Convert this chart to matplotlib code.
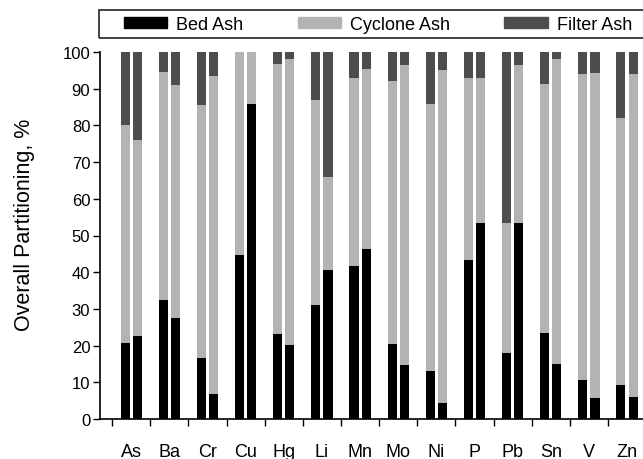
import matplotlib
matplotlib.use("Agg")
import matplotlib.pyplot as plt
import numpy as np
from matplotlib.patches import Patch, Rectangle

plt.rcParams['font.family'] = ['Liberation Sans', 'DejaVu Sans']

elements = ["As", "Ba", "Cr", "Cu", "Hg", "Li", "Mn", "Mo", "Ni", "P", "Pb", "Sn", "V", "Zn"]

# two bars per element: bed ash share, and top of cyclone ash (bed + cyclone)
bed_1 = [20.7, 32.3, 16.7, 44.8, 23.2, 31.0, 41.8, 20.3, 13.2, 43.2, 18.0, 23.3, 10.6, 9.3]
bed_2 = [22.5, 27.5, 6.8, 85.7, 20.2, 40.7, 46.4, 14.7, 4.4, 53.4, 53.3, 15.0, 5.8, 6.0]
cyc_top_1 = [80.0, 94.5, 85.5, 100.0, 96.7, 86.8, 93.0, 92.0, 85.8, 92.8, 53.5, 91.3, 94.0, 82.0]
cyc_top_2 = [76.0, 91.0, 93.5, 100.0, 98.0, 66.0, 95.5, 96.5, 95.0, 92.8, 96.5, 98.0, 94.4, 94.0]

bed_c = "#000000"
cyc_c = "#b3b3b3"
fil_c = "#4d4d4d"

x = np.arange(len(elements))
w = 0.24
off = 0.16

fig = plt.figure(figsize=(6.43, 4.6), dpi=100)
ax = fig.add_axes([100 / 643, 1 - 420 / 460, 1 - 100 / 643, (420 - 53) / 460])

for pos, bed, top in ((x - off, bed_1, cyc_top_1), (x + off, bed_2, cyc_top_2)):
    bed = np.array(bed)
    top = np.array(top)
    ax.bar(pos, bed, w, color=bed_c, linewidth=0)
    ax.bar(pos, top - bed, w, bottom=bed, color=cyc_c, linewidth=0)
    ax.bar(pos, 100 - top, w, bottom=top, color=fil_c, linewidth=0)

ax.set_xlim(-0.82, 13.42)
ax.set_ylim(0, 100)
ax.set_yticks(np.arange(0, 101, 10))
ax.set_xticks(x - 0.5)
ax.set_xticklabels([])
for xi, name in zip(x, elements):
    ax.text(xi, -8.9, name, ha="center", va="center", fontsize=13)
ax.spines['top'].set_visible(False)
ax.spines['right'].set_visible(False)
ax.spines['left'].set_linewidth(1.2)
ax.spines['bottom'].set_linewidth(1.2)
ax.tick_params(axis='both', direction='out', length=5, width=1.0, labelsize=12, pad=2)
ax.set_ylabel("Overall Partitioning, %", fontsize=15.5)
ax.yaxis.set_label_coords(-0.12, (420 - 224.5) / 367)

# legend box spanning the top
fig.patches.append(Rectangle((99 / 643, 1 - 39 / 460), 1 - 99 / 643 + 0.01, 28 / 460,
                             transform=fig.transFigure, fill=False,
                             edgecolor="#222222", linewidth=1.2, clip_on=False))
handles = [Patch(color=bed_c), Patch(color=cyc_c), Patch(color=fil_c)]
fig.legend(handles, ["Bed Ash", "Cyclone Ash", "Filter Ash"], ncol=3,
           loc="center left", bbox_to_anchor=(124 / 643, 1 - 25 / 460),
           fontsize=13, frameon=False, handlelength=2.4, handleheight=0.55,
           handletextpad=0.5, columnspacing=3.0, borderpad=0, borderaxespad=0)

fig.savefig("out.png", dpi=100)
